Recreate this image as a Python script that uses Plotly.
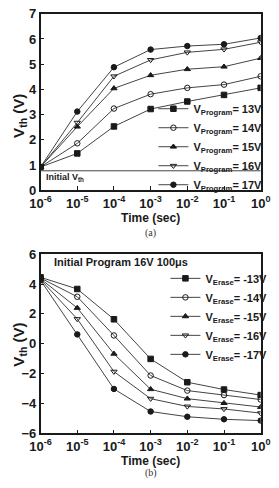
import plotly.graph_objects as go

times = [1e-6, 1e-5, 1e-4, 1e-3, 1e-2, 1e-1, 1e0]
tick_vals = [1e-6, 1e-5, 1e-4, 1e-3, 1e-2, 1e-1, 1e0]
tick_text = ["10<sup>-6</sup>", "10<sup>-5</sup>", "10<sup>-4</sup>", "10<sup>-3</sup>",
             "10<sup>-2</sup>", "10<sup>-1</sup>", "10<sup>0</sup>"]

prog_labels = ["13V", "14V", "15V", "16V", "17V"]
prog_13 = [0.92, 1.46, 2.53, 3.22, 3.52, 3.78, 4.06]
prog_14 = [0.92, 1.86, 3.24, 3.81, 4.06, 4.19, 4.52]
prog_15 = [0.92, 2.52, 4.04, 4.56, 4.80, 4.90, 5.24]
prog_16 = [0.92, 2.68, 4.52, 5.17, 5.47, 5.59, 5.87]
prog_17 = [0.92, 3.12, 4.88, 5.58, 5.72, 5.79, 6.04]
initial_vth = 0.77

erase_labels = ["-13V", "-14V", "-15V", "-16V", "-17V"]
erase_13 = [4.45, 3.67, 1.64, -1.01, -2.57, -3.06, -3.43]
erase_14 = [4.40, 3.15, 0.56, -2.12, -3.13, -3.43, -3.73]
erase_15 = [4.35, 2.40, -0.67, -3.04, -3.67, -3.97, -4.23]
erase_16 = [4.30, 1.66, -1.86, -3.67, -4.19, -4.36, -4.64]
erase_17 = [4.25, 0.63, -3.02, -4.53, -4.88, -5.05, -5.14]

symbols = ["square", "circle-open", "triangle-up", "triangle-down-open", "circle"]

FONT = "Liberation Sans"
LINE = "#444444"
INK = "#1a1a1a"

fig = go.Figure()

for lab, ys, sym in zip(prog_labels, [prog_13, prog_14, prog_15, prog_16, prog_17], symbols):
    fig.add_trace(go.Scatter(
        x=times, y=ys, mode="lines+markers", xaxis="x", yaxis="y",
        name="V<sub>Program</sub>= " + lab,
        line=dict(color=LINE, width=1),
        marker=dict(symbol=sym, size=5.5, color=INK, line=dict(color=INK, width=1)),
        legend="legend",
    ))

for lab, ys, sym in zip(erase_labels, [erase_13, erase_14, erase_15, erase_16, erase_17], symbols):
    fig.add_trace(go.Scatter(
        x=times, y=ys, mode="lines+markers", xaxis="x2", yaxis="y2",
        name="V<sub>Erase</sub>= " + lab,
        line=dict(color=LINE, width=1),
        marker=dict(symbol=sym, size=5.5, color=INK, line=dict(color=INK, width=1)),
        legend="legend2",
    ))

fig.add_shape(type="line", xref="x", yref="y", x0=times[0], x1=times[-1],
              y0=initial_vth, y1=initial_vth, line=dict(color="#444444", width=1))

W, H = 279, 488
xd = [32 / W, 270 / W]
ya = [1 - 189 / H, 1 - 7 / H]
yb = [1 - 440 / H, 1 - 255 / H]

axis_common = dict(showline=True, linecolor=INK, linewidth=1.5, mirror=True,
                   ticks="inside", ticklen=4, tickcolor=INK, showgrid=False,
                   zeroline=False, ticklabeloverflow="allow",
                   tickfont=dict(family=FONT, size=13, color=INK, weight="bold"))

xaxis_common = dict(axis_common, type="log", range=[-6, 0],
                    tickmode="array", tickvals=tick_vals, ticktext=tick_text,
                    title=dict(text="Time (sec)", standoff=3,
                               font=dict(family=FONT, size=12, color=INK, weight="bold")))

ytitle_font = dict(family=FONT, size=15, color=INK, weight="bold")
legend_font = dict(family=FONT, size=11, color=INK, weight="bold")

fig.update_layout(
    width=W, height=H, margin=dict(l=0, r=0, t=0, b=0),
    paper_bgcolor="white", plot_bgcolor="white",
    xaxis=dict(xaxis_common, domain=xd, anchor="y"),
    yaxis=dict(axis_common, domain=ya, anchor="x", range=[0, 7], dtick=1),
    xaxis2=dict(xaxis_common, domain=xd, anchor="y2"),
    yaxis2=dict(axis_common, domain=yb, anchor="x2", range=[-6, 6], dtick=2),
    legend=dict(x=154 / W, y=1 - 90 / H, xanchor="left", yanchor="top",
                bgcolor="rgba(0,0,0,0)", tracegroupgap=0, itemwidth=30,
                font=legend_font),
    legend2=dict(x=167 / W, y=1 - 265 / H, xanchor="left", yanchor="top",
                 bgcolor="rgba(0,0,0,0)", tracegroupgap=0, itemwidth=30,
                 font=legend_font),
    annotations=[
        dict(text="V<sub>th</sub> (V)", xref="paper", yref="paper", textangle=-90,
             x=9 / W, y=1 - 112 / H, xanchor="center", yanchor="middle", showarrow=False,
             font=ytitle_font),
        dict(text="V<sub>th</sub> (V)", xref="paper", yref="paper", textangle=-90,
             x=9 / W, y=1 - 348 / H, xanchor="center", yanchor="middle", showarrow=False,
             font=ytitle_font),
        dict(text="Initial V<sub>th</sub>", xref="paper", yref="paper",
             x=36 / W, y=1 - 176 / H, xanchor="left", yanchor="middle", showarrow=False,
             font=dict(family=FONT, size=9, color=INK, weight="bold")),
        dict(text="Initial Program 16V 100\u03bcs", xref="paper", yref="paper",
             x=44 / W, y=1 - 263 / H, xanchor="left", yanchor="middle", showarrow=False,
             font=dict(family=FONT, size=11, color=INK, weight="bold")),
        dict(text="(a)", xref="paper", yref="paper", x=151 / W, y=1 - 233 / H,
             xanchor="center", yanchor="middle", showarrow=False,
             font=dict(family="Liberation Serif", size=10, color="#333333")),
        dict(text="(b)", xref="paper", yref="paper", x=151 / W, y=1 - 481 / H,
             xanchor="center", yanchor="middle", showarrow=False,
             font=dict(family="Liberation Serif", size=10, color="#333333")),
    ],
)

fig.write_html("out.html")
